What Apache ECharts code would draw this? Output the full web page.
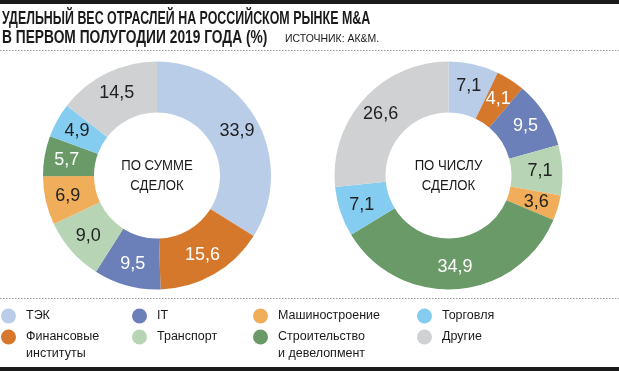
<!DOCTYPE html>
<html>
<head>
<meta charset="utf-8">
<script src="https://cdn.jsdelivr.net/npm/echarts@6/dist/echarts.min.js"></script>
<style>
html,body{margin:0;padding:0;background:#fff;}
#c{width:619px;height:371px;}
</style>
</head>
<body>
<div id="c"></div>
<script>
const categories = ['ТЭК', 'Финансовые\nинституты', 'IT', 'Транспорт', 'Машиностроение', 'Строительство\nи девелопмент', 'Торговля', 'Другие'];
const sumValues = [33.9, 15.6, 9.5, 9.0, 6.9, 5.7, 4.9, 14.5];
const countValues = [7.1, 4.1, 9.5, 7.1, 3.6, 34.9, 7.1, 26.6];
const colors = ['#b9cde9', '#d5782c', '#6b80b9', '#b7d4b5', '#f0ad5a', '#699a67', '#84cdf0', '#d0d1d2'];
const labelColors = ['#222', '#fff', '#fff', '#222', '#222', '#fff', '#222', '#222'];
const titleLine1 = 'УДЕЛЬНЫЙ ВЕС ОТРАСЛЕЙ НА РОССИЙСКОМ РЫНКЕ M&A';
const titleLine2 = 'В ПЕРВОМ ПОЛУГОДИИ 2019 ГОДА (%)';
const sourceText = 'ИСТОЧНИК: АК&М.';
const centerLeft = 'ПО СУММЕ\nСДЕЛОК';
const centerRight = 'ПО ЧИСЛУ\nСДЕЛОК';

const SANS = '"Liberation Sans", Arial, Helvetica, sans-serif';
const INK = '#1a1a1a';

function pieData(values) {
  return values.map((v, i) => ({
    name: categories[i],
    value: v,
    itemStyle: { color: colors[i] },
    label: { color: labelColors[i] }
  }));
}

function pieSeries(values, cx) {
  return {
    type: 'pie',
    center: [cx, 175.5],
    radius: [63, 114],
    startAngle: 90,
    clockwise: true,
    avoidLabelOverlap: false,
    silent: true,
    animation: false,
    label: {
      show: true,
      position: 'inside',
      fontFamily: SANS,
      fontSize: 18,
      formatter: p => p.value.toFixed(1).replace('.', ',')
    },
    labelLine: { show: false },
    data: pieData(values)
  };
}

// legend columns: [row1 index, row2 index, left]
const legendCols = [[0, 1, 1], [2, 3, 132], [4, 5, 253], [6, 7, 417]];
const legends = [];
legendCols.forEach(col => {
  [col[0], col[1]].forEach((idx, r) => {
    const name = categories[idx];
    const multi = name.indexOf('\n') >= 0;
    const iconCenter = r === 0 ? 316 : 337;
    legends.push({
      left: col[2],
      top: multi ? iconCenter - 24.75 : iconCenter - 8.25,
      padding: 0,
      icon: 'circle',
      itemWidth: 15,
      itemHeight: 15,
      selectedMode: false,
      orient: 'vertical',
      formatter: n => (n.indexOf('\n') >= 0 ? '\u00a0\n' + n : n),
      textStyle: { fontFamily: SANS, fontSize: 12.5, color: INK, lineHeight: 16.5, padding: [0, 0, 0, 5] },
      data: [name]
    });
  });
});

const chart = echarts.init(document.getElementById('c'), null, { renderer: 'canvas' });
chart.setOption({
  animation: false,
  backgroundColor: '#fff',
  legend: legends,
  series: [pieSeries(sumValues, 157), pieSeries(countValues, 448.5)],
  graphic: [
    { type: 'rect', shape: { x: 0, y: 0, width: 619, height: 4 }, style: { fill: INK }, silent: true },
    { type: 'rect', shape: { x: 0, y: 367, width: 619, height: 4 }, style: { fill: INK }, silent: true },
    { type: 'line', shape: { x1: 0, y1: 50.5, x2: 619, y2: 50.5 }, style: { stroke: '#9a9a9a', lineWidth: 1, lineDash: [1.5, 1.5] }, silent: true },
    { type: 'line', shape: { x1: 0, y1: 298.5, x2: 619, y2: 298.5 }, style: { stroke: '#9a9a9a', lineWidth: 1, lineDash: [1.5, 1.5] }, silent: true },
    { type: 'text', x: 2, y: 19, scaleX: 0.69, style: { text: titleLine1, fontFamily: SANS, fontSize: 18, fontWeight: 'bold', fill: INK, align: 'left', verticalAlign: 'middle' }, silent: true },
    { type: 'text', x: 2, y: 38, scaleX: 0.765, style: { text: titleLine2, fontFamily: SANS, fontSize: 18, fontWeight: 'bold', fill: INK, align: 'left', verticalAlign: 'middle' }, silent: true },
    { type: 'text', x: 285, y: 38.5, scaleX: 0.91, style: { text: sourceText, fontFamily: SANS, fontSize: 11.5, fill: INK, align: 'left', verticalAlign: 'middle' }, silent: true },
    { type: 'text', x: 157, y: 176, scaleX: 0.85, style: { text: centerLeft, fontFamily: SANS, fontSize: 15.5, lineHeight: 20, fill: INK, align: 'center', verticalAlign: 'middle' }, silent: true },
    { type: 'text', x: 448.5, y: 176, scaleX: 0.85, style: { text: centerRight, fontFamily: SANS, fontSize: 15.5, lineHeight: 20, fill: INK, align: 'center', verticalAlign: 'middle' }, silent: true }
  ]
});
</script>
</body>
</html>
